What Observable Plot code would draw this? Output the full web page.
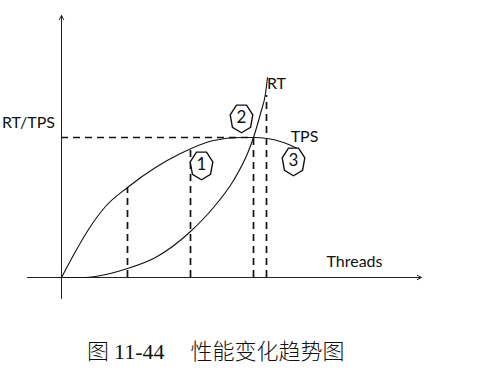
<!DOCTYPE html>
<html>
<head>
<meta charset="utf-8">
<script src="https://cdn.jsdelivr.net/npm/d3@7"></script>
<script src="https://cdn.jsdelivr.net/npm/@observablehq/plot@0.6"></script>
<style>
  html, body { margin: 0; padding: 0; background: #fff; }
  #chart { width: 484px; height: 330px; }
  #caption { height: 44px; line-height: 44px; padding-left: 87px; font-size: 22px; color: #111;
    font-family: "Liberation Serif", "Noto Sans CJK SC", serif; white-space: pre; font-weight: 300; }
</style>
</head>
<body>
<div id="chart"></div>
<div id="caption"><span>图</span><span style="margin-left:5px">11-44</span><span style="margin-left:26px">性能变化趋势图</span></div>
<script>
// Curves (Threads on x, RT/TPS on y, arbitrary units)
const tpsX = [0, 0.7, 1.35, 2.2, 3.3, 4.7, 5.95, 7.6, 8.95, 9.6, 10.3, 11.1, 11.8];
const tpsY = [0, 1.3, 2.4, 3.55, 4.5, 5.5, 6.2, 6.85, 7.0, 7.0, 6.95, 6.75, 6.45];
const rtX = [0, 1.2, 1.7, 3.3, 4.7, 6.45, 7.6, 8.6, 9.3, 9.6, 9.95, 10.2, 10.3];
const rtY = [0, 0, 0.05, 0.45, 1.0, 2.3, 3.5, 4.85, 6.2, 7.0, 8.2, 9.2, 10.0];

// Dashed guides
const guideX = [3.3, 6.45, 9.6, 10.25];
const guideTop = [4.5, 6.35, 7.0, 9.1];
const peakTPS = 7.0;
const peakX = 9.6;

// Axes extents
const xAxisExtent = [-1.7, 18];
const yAxisExtent = [-1.05, 13.1];

// Labels
const labelText = ["RT", "TPS", "Threads", "RT/TPS"];
const labelX = [10.75, 12.15, 14.65, -1.65];
const labelY = [9.7, 7.05, 0.8, 7.75];

// Stage markers
const stageNum = ["1", "2", "3"];
const stageX = [7.0, 9.0, 11.6];
const stageY = [5.65, 8.0, 5.85];

const tps = tpsX.map((x, i) => ({x, y: tpsY[i]}));
const rt = rtX.map((x, i) => ({x, y: rtY[i]}));
const guides = guideX.map((x, i) => ({x, top: guideTop[i]}));
const labels = labelText.map((t, i) => ({t, x: labelX[i], y: labelY[i]}));
const stages = stageNum.map((t, i) => ({t, x: stageX[i], y: stageY[i]}));
const axes = [
  {x1: xAxisExtent[0], y1: 0, x2: xAxisExtent[1], y2: 0},
  {x1: 0, y1: yAxisExtent[0], x2: 0, y2: yAxisExtent[1]}
];

const heptagon = {
  draw(context, size) {
    const r = Math.sqrt(size / Math.PI);
    const rx = r * 0.8, ry = r;
    for (let k = 0; k < 7; k++) {
      const a = Math.PI / 7 + (2 * Math.PI * k) / 7;
      const px = rx * Math.sin(a), py = -ry * Math.cos(a) + r * 0.05;
      if (k === 0) context.moveTo(px, py); else context.lineTo(px, py);
    }
    context.closePath();
  }
};

const chart = Plot.plot({
  width: 484,
  height: 330,
  x: {domain: [0, 18], range: [61, 421], axis: null},
  y: {domain: [0, 13], range: [277, 17], axis: null},
  style: {fontFamily: "Lato, 'Open Sans', sans-serif", background: "white"},
  marks: [
    Plot.arrow(axes, {x1: "x1", y1: "y1", x2: "x2", y2: "y2", stroke: "#222", strokeWidth: 1, headLength: 7, headAngle: 55}),
    Plot.ruleY([peakTPS], {x1: 0, x2: peakX, stroke: "#111", strokeWidth: 1.7, strokeDasharray: "7,5"}),
    Plot.ruleX(guides, {x: "x", y1: 0, y2: "top", stroke: "#111", strokeWidth: 1.7, strokeDasharray: "7,5"}),
    Plot.line(tps, {x: "x", y: "y", curve: "monotone-x", stroke: "#111", strokeWidth: 1.1}),
    Plot.line(rt, {x: "x", y: "y", curve: "monotone-x", stroke: "#111", strokeWidth: 1.1}),
    Plot.dot(stages, {x: "x", y: "y", r: 14.5, symbol: heptagon, fill: "white", stroke: "#111", strokeWidth: 1.4}),
    Plot.text(stages, {x: "x", y: "y", text: "t", fontSize: 17, fill: "#111"}),
    Plot.text(labels, {x: "x", y: "y", text: "t", fontSize: 16, fill: "#111"})
  ]
});
document.getElementById("chart").appendChild(chart);
</script>
</body>
</html>
